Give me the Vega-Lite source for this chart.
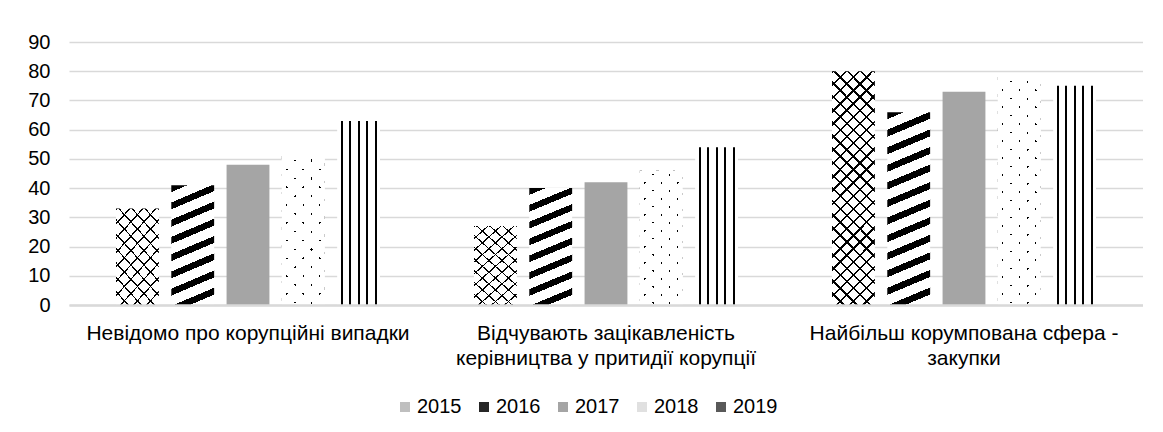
{
  "$schema": "https://vega.github.io/schema/vega-lite/v6.json",
  "width": 1074,
  "height": 263,
  "padding": {"left": 27, "top": 32, "right": 0, "bottom": 0},
  "background": "#ffffff",
  "config": {
    "view": {"stroke": null},
    "font": "Liberation Sans",
    "axis": {"labelFont": "Liberation Sans", "labelColor": "#000000"},
    "legend": {"labelFont": "Liberation Sans", "labelColor": "#000000"}
  },
  "data": {
    "values": [
      {"cat": "Невідомо про корупційні випадки", "year": "2015", "value": 33},
      {"cat": "Невідомо про корупційні випадки", "year": "2016", "value": 41},
      {"cat": "Невідомо про корупційні випадки", "year": "2017", "value": 48},
      {"cat": "Невідомо про корупційні випадки", "year": "2018", "value": 51},
      {"cat": "Невідомо про корупційні випадки", "year": "2019", "value": 63},
      {"cat": "Відчувають зацікавленість керівництва у притидії корупції", "year": "2015", "value": 27},
      {"cat": "Відчувають зацікавленість керівництва у притидії корупції", "year": "2016", "value": 40},
      {"cat": "Відчувають зацікавленість керівництва у притидії корупції", "year": "2017", "value": 42},
      {"cat": "Відчувають зацікавленість керівництва у притидії корупції", "year": "2018", "value": 46},
      {"cat": "Відчувають зацікавленість керівництва у притидії корупції", "year": "2019", "value": 54},
      {"cat": "Найбільш корумпована сфера - закупки", "year": "2015", "value": 80},
      {"cat": "Найбільш корумпована сфера - закупки", "year": "2016", "value": 66},
      {"cat": "Найбільш корумпована сфера - закупки", "year": "2017", "value": 73},
      {"cat": "Найбільш корумпована сфера - закупки", "year": "2018", "value": 78},
      {"cat": "Найбільш корумпована сфера - закупки", "year": "2019", "value": 75}
    ]
  },
  "encoding": {
    "x": {
      "field": "cat", "type": "nominal", "sort": null,
      "scale": {"paddingInner": 0.2626, "paddingOuter": 0.1313},
      "axis": {
        "title": null, "labelAngle": 0, "labelFontSize": 21, "labelLineHeight": 25,
        "labelPadding": 17, "labelLimit": 0, "ticks": false, "grid": false,
        "domain": true, "domainColor": "#d9d9d9", "domainWidth": 2.5, "zindex": 1,
        "labelExpr": "datum.value === 'Відчувають зацікавленість керівництва у притидії корупції' ? ['Відчувають зацікавленість', 'керівництва у притидії корупції'] : datum.value === 'Найбільш корумпована сфера - закупки' ? ['Найбільш корумпована сфера -', 'закупки'] : datum.value"
      }
    },
    "xOffset": {
      "field": "year", "type": "nominal",
      "scale": {"domain": ["2015", "2016", "2017", "2018", "2019"], "paddingInner": 0.225, "paddingOuter": 0}
    },
    "y": {
      "field": "value", "type": "quantitative",
      "scale": {"domain": [0, 90], "nice": false},
      "axis": {
        "title": null, "values": [0, 10, 20, 30, 40, 50, 60, 70, 80, 90],
        "labelFontSize": 20, "labelPadding": 19, "ticks": false, "domain": false,
        "grid": true, "gridColor": "#d9d9d9", "gridWidth": 1.5
      }
    }
  },
  "layer": [
    {
      "mark": {"type": "bar"},
      "encoding": {
        "fill": {
          "field": "year", "type": "nominal",
          "scale": {"domain": ["2015", "2016", "2017", "2018", "2019"], "range": ["#bfbfbf", "#262626", "#a5a5a5", "#e0e0e0", "#595959"]},
          "legend": {
            "title": null, "orient": "none", "legendX": 326, "legendY": 355, "direction": "horizontal",
            "symbolType": "square", "symbolSize": 100, "symbolStrokeWidth": 0,
            "labelFontSize": 20, "labelOffset": 2, "columnPadding": 12
          },
          "condition": [
            {"test": "datum.year === '2015' && datum.value > 60", "value": {"gradient": "linear", "x1": 0, "y1": 0, "x2": 0.2106, "y2": 1.1452, "stops": [
              {"offset": 0, "color": "#000"}, {"offset": 0.0085, "color": "#000"}, {"offset": 0.0085, "color": "#fff"}, {"offset": 0.0476, "color": "#fff"},
              {"offset": 0.0476, "color": "#000"}, {"offset": 0.0561, "color": "#000"}, {"offset": 0.0561, "color": "#fff"}, {"offset": 0.0952, "color": "#fff"},
              {"offset": 0.0952, "color": "#000"}, {"offset": 0.1037, "color": "#000"}, {"offset": 0.1037, "color": "#fff"}, {"offset": 0.1429, "color": "#fff"},
              {"offset": 0.1429, "color": "#000"}, {"offset": 0.1514, "color": "#000"}, {"offset": 0.1514, "color": "#fff"}, {"offset": 0.1905, "color": "#fff"},
              {"offset": 0.1905, "color": "#000"}, {"offset": 0.199, "color": "#000"}, {"offset": 0.199, "color": "#fff"}, {"offset": 0.2381, "color": "#fff"},
              {"offset": 0.2381, "color": "#000"}, {"offset": 0.2466, "color": "#000"}, {"offset": 0.2466, "color": "#fff"}, {"offset": 0.2857, "color": "#fff"},
              {"offset": 0.2857, "color": "#000"}, {"offset": 0.2942, "color": "#000"}, {"offset": 0.2942, "color": "#fff"}, {"offset": 0.3333, "color": "#fff"},
              {"offset": 0.3333, "color": "#000"}, {"offset": 0.3418, "color": "#000"}, {"offset": 0.3418, "color": "#fff"}, {"offset": 0.381, "color": "#fff"},
              {"offset": 0.381, "color": "#000"}, {"offset": 0.3895, "color": "#000"}, {"offset": 0.3895, "color": "#fff"}, {"offset": 0.4286, "color": "#fff"},
              {"offset": 0.4286, "color": "#000"}, {"offset": 0.4371, "color": "#000"}, {"offset": 0.4371, "color": "#fff"}, {"offset": 0.4762, "color": "#fff"},
              {"offset": 0.4762, "color": "#000"}, {"offset": 0.4847, "color": "#000"}, {"offset": 0.4847, "color": "#fff"}, {"offset": 0.5238, "color": "#fff"},
              {"offset": 0.5238, "color": "#000"}, {"offset": 0.5323, "color": "#000"}, {"offset": 0.5323, "color": "#fff"}, {"offset": 0.5714, "color": "#fff"},
              {"offset": 0.5714, "color": "#000"}, {"offset": 0.5799, "color": "#000"}, {"offset": 0.5799, "color": "#fff"}, {"offset": 0.619, "color": "#fff"},
              {"offset": 0.619, "color": "#000"}, {"offset": 0.6275, "color": "#000"}, {"offset": 0.6275, "color": "#fff"}, {"offset": 0.6667, "color": "#fff"},
              {"offset": 0.6667, "color": "#000"}, {"offset": 0.6752, "color": "#000"}, {"offset": 0.6752, "color": "#fff"}, {"offset": 0.7143, "color": "#fff"},
              {"offset": 0.7143, "color": "#000"}, {"offset": 0.7228, "color": "#000"}, {"offset": 0.7228, "color": "#fff"}, {"offset": 0.7619, "color": "#fff"},
              {"offset": 0.7619, "color": "#000"}, {"offset": 0.7704, "color": "#000"}, {"offset": 0.7704, "color": "#fff"}, {"offset": 0.8095, "color": "#fff"},
              {"offset": 0.8095, "color": "#000"}, {"offset": 0.818, "color": "#000"}, {"offset": 0.818, "color": "#fff"}, {"offset": 0.8571, "color": "#fff"},
              {"offset": 0.8571, "color": "#000"}, {"offset": 0.8656, "color": "#000"}, {"offset": 0.8656, "color": "#fff"}, {"offset": 0.9048, "color": "#fff"},
              {"offset": 0.9048, "color": "#000"}, {"offset": 0.9133, "color": "#000"}, {"offset": 0.9133, "color": "#fff"}, {"offset": 0.9524, "color": "#fff"},
              {"offset": 0.9524, "color": "#000"}, {"offset": 0.9609, "color": "#000"}, {"offset": 0.9609, "color": "#fff"}, {"offset": 1, "color": "#fff"}]}},
            {"test": "datum.year === '2015'", "value": {"gradient": "linear", "x1": 0, "y1": 0, "x2": 0.5872, "y2": 1.2017, "stops": [
              {"offset": 0, "color": "#000"}, {"offset": 0.013, "color": "#000"}, {"offset": 0.013, "color": "#fff"}, {"offset": 0.1, "color": "#fff"},
              {"offset": 0.1, "color": "#000"}, {"offset": 0.113, "color": "#000"}, {"offset": 0.113, "color": "#fff"}, {"offset": 0.2, "color": "#fff"},
              {"offset": 0.2, "color": "#000"}, {"offset": 0.213, "color": "#000"}, {"offset": 0.213, "color": "#fff"}, {"offset": 0.3, "color": "#fff"},
              {"offset": 0.3, "color": "#000"}, {"offset": 0.313, "color": "#000"}, {"offset": 0.313, "color": "#fff"}, {"offset": 0.4, "color": "#fff"},
              {"offset": 0.4, "color": "#000"}, {"offset": 0.413, "color": "#000"}, {"offset": 0.413, "color": "#fff"}, {"offset": 0.5, "color": "#fff"},
              {"offset": 0.5, "color": "#000"}, {"offset": 0.513, "color": "#000"}, {"offset": 0.513, "color": "#fff"}, {"offset": 0.6, "color": "#fff"},
              {"offset": 0.6, "color": "#000"}, {"offset": 0.613, "color": "#000"}, {"offset": 0.613, "color": "#fff"}, {"offset": 0.7, "color": "#fff"},
              {"offset": 0.7, "color": "#000"}, {"offset": 0.713, "color": "#000"}, {"offset": 0.713, "color": "#fff"}, {"offset": 0.8, "color": "#fff"},
              {"offset": 0.8, "color": "#000"}, {"offset": 0.813, "color": "#000"}, {"offset": 0.813, "color": "#fff"}, {"offset": 0.9, "color": "#fff"},
              {"offset": 0.9, "color": "#000"}, {"offset": 0.913, "color": "#000"}, {"offset": 0.913, "color": "#fff"}, {"offset": 1, "color": "#fff"}]}},
            {"test": "datum.year === '2016' && datum.value > 60", "value": {"gradient": "linear", "x1": 0, "y1": 0, "x2": 0.1011, "y2": 1.0839, "stops": [
              {"offset": 0, "color": "#000"}, {"offset": 0.0333, "color": "#000"}, {"offset": 0.0333, "color": "#fff"}, {"offset": 0.0833, "color": "#fff"},
              {"offset": 0.0833, "color": "#000"}, {"offset": 0.1167, "color": "#000"}, {"offset": 0.1167, "color": "#fff"}, {"offset": 0.1667, "color": "#fff"},
              {"offset": 0.1667, "color": "#000"}, {"offset": 0.2, "color": "#000"}, {"offset": 0.2, "color": "#fff"}, {"offset": 0.25, "color": "#fff"},
              {"offset": 0.25, "color": "#000"}, {"offset": 0.2833, "color": "#000"}, {"offset": 0.2833, "color": "#fff"}, {"offset": 0.3333, "color": "#fff"},
              {"offset": 0.3333, "color": "#000"}, {"offset": 0.3667, "color": "#000"}, {"offset": 0.3667, "color": "#fff"}, {"offset": 0.4167, "color": "#fff"},
              {"offset": 0.4167, "color": "#000"}, {"offset": 0.45, "color": "#000"}, {"offset": 0.45, "color": "#fff"}, {"offset": 0.5, "color": "#fff"},
              {"offset": 0.5, "color": "#000"}, {"offset": 0.5333, "color": "#000"}, {"offset": 0.5333, "color": "#fff"}, {"offset": 0.5833, "color": "#fff"},
              {"offset": 0.5833, "color": "#000"}, {"offset": 0.6167, "color": "#000"}, {"offset": 0.6167, "color": "#fff"}, {"offset": 0.6667, "color": "#fff"},
              {"offset": 0.6667, "color": "#000"}, {"offset": 0.7, "color": "#000"}, {"offset": 0.7, "color": "#fff"}, {"offset": 0.75, "color": "#fff"},
              {"offset": 0.75, "color": "#000"}, {"offset": 0.7833, "color": "#000"}, {"offset": 0.7833, "color": "#fff"}, {"offset": 0.8333, "color": "#fff"},
              {"offset": 0.8333, "color": "#000"}, {"offset": 0.8667, "color": "#000"}, {"offset": 0.8667, "color": "#fff"}, {"offset": 0.9167, "color": "#fff"},
              {"offset": 0.9167, "color": "#000"}, {"offset": 0.95, "color": "#000"}, {"offset": 0.95, "color": "#fff"}, {"offset": 1, "color": "#fff"}]}},
            {"test": "datum.year === '2016'", "value": {"gradient": "linear", "x1": 0, "y1": 0, "x2": 0.1712, "y2": 1.126, "stops": [
              {"offset": 0, "color": "#000"}, {"offset": 0.05, "color": "#000"}, {"offset": 0.05, "color": "#fff"}, {"offset": 0.125, "color": "#fff"},
              {"offset": 0.125, "color": "#000"}, {"offset": 0.175, "color": "#000"}, {"offset": 0.175, "color": "#fff"}, {"offset": 0.25, "color": "#fff"},
              {"offset": 0.25, "color": "#000"}, {"offset": 0.3, "color": "#000"}, {"offset": 0.3, "color": "#fff"}, {"offset": 0.375, "color": "#fff"},
              {"offset": 0.375, "color": "#000"}, {"offset": 0.425, "color": "#000"}, {"offset": 0.425, "color": "#fff"}, {"offset": 0.5, "color": "#fff"},
              {"offset": 0.5, "color": "#000"}, {"offset": 0.55, "color": "#000"}, {"offset": 0.55, "color": "#fff"}, {"offset": 0.625, "color": "#fff"},
              {"offset": 0.625, "color": "#000"}, {"offset": 0.675, "color": "#000"}, {"offset": 0.675, "color": "#fff"}, {"offset": 0.75, "color": "#fff"},
              {"offset": 0.75, "color": "#000"}, {"offset": 0.8, "color": "#000"}, {"offset": 0.8, "color": "#fff"}, {"offset": 0.875, "color": "#fff"},
              {"offset": 0.875, "color": "#000"}, {"offset": 0.925, "color": "#000"}, {"offset": 0.925, "color": "#fff"}, {"offset": 1, "color": "#fff"}]}},
            {"test": "datum.year === '2017'", "value": "#a5a5a5"},
            {"test": "datum.year === '2018' && datum.value > 60", "value": {"gradient": "linear", "x1": 0, "y1": 0, "x2": 0.222, "y2": 1.15, "stops": [
              {"offset": 0, "color": "#000"}, {"offset": 0.008, "color": "#000"}, {"offset": 0.008, "color": "#fff"}, {"offset": 0.0625, "color": "#fff"},
              {"offset": 0.0625, "color": "#000"}, {"offset": 0.0705, "color": "#000"}, {"offset": 0.0705, "color": "#fff"}, {"offset": 0.125, "color": "#fff"},
              {"offset": 0.125, "color": "#000"}, {"offset": 0.133, "color": "#000"}, {"offset": 0.133, "color": "#fff"}, {"offset": 0.1875, "color": "#fff"},
              {"offset": 0.1875, "color": "#000"}, {"offset": 0.1955, "color": "#000"}, {"offset": 0.1955, "color": "#fff"}, {"offset": 0.25, "color": "#fff"},
              {"offset": 0.25, "color": "#000"}, {"offset": 0.258, "color": "#000"}, {"offset": 0.258, "color": "#fff"}, {"offset": 0.3125, "color": "#fff"},
              {"offset": 0.3125, "color": "#000"}, {"offset": 0.3205, "color": "#000"}, {"offset": 0.3205, "color": "#fff"}, {"offset": 0.375, "color": "#fff"},
              {"offset": 0.375, "color": "#000"}, {"offset": 0.383, "color": "#000"}, {"offset": 0.383, "color": "#fff"}, {"offset": 0.4375, "color": "#fff"},
              {"offset": 0.4375, "color": "#000"}, {"offset": 0.4455, "color": "#000"}, {"offset": 0.4455, "color": "#fff"}, {"offset": 0.5, "color": "#fff"},
              {"offset": 0.5, "color": "#000"}, {"offset": 0.508, "color": "#000"}, {"offset": 0.508, "color": "#fff"}, {"offset": 0.5625, "color": "#fff"},
              {"offset": 0.5625, "color": "#000"}, {"offset": 0.5705, "color": "#000"}, {"offset": 0.5705, "color": "#fff"}, {"offset": 0.625, "color": "#fff"},
              {"offset": 0.625, "color": "#000"}, {"offset": 0.633, "color": "#000"}, {"offset": 0.633, "color": "#fff"}, {"offset": 0.6875, "color": "#fff"},
              {"offset": 0.6875, "color": "#000"}, {"offset": 0.6955, "color": "#000"}, {"offset": 0.6955, "color": "#fff"}, {"offset": 0.75, "color": "#fff"},
              {"offset": 0.75, "color": "#000"}, {"offset": 0.758, "color": "#000"}, {"offset": 0.758, "color": "#fff"}, {"offset": 0.8125, "color": "#fff"},
              {"offset": 0.8125, "color": "#000"}, {"offset": 0.8205, "color": "#000"}, {"offset": 0.8205, "color": "#fff"}, {"offset": 0.875, "color": "#fff"},
              {"offset": 0.875, "color": "#000"}, {"offset": 0.883, "color": "#000"}, {"offset": 0.883, "color": "#fff"}, {"offset": 0.9375, "color": "#fff"},
              {"offset": 0.9375, "color": "#000"}, {"offset": 0.9455, "color": "#000"}, {"offset": 0.9455, "color": "#fff"}, {"offset": 1, "color": "#fff"}]}},
            {"test": "datum.year === '2018'", "value": {"gradient": "linear", "x1": 0, "y1": 0, "x2": 0.3711, "y2": 1.1953, "stops": [
              {"offset": 0, "color": "#000"}, {"offset": 0.012, "color": "#000"}, {"offset": 0.012, "color": "#fff"}, {"offset": 0.0909, "color": "#fff"},
              {"offset": 0.0909, "color": "#000"}, {"offset": 0.1029, "color": "#000"}, {"offset": 0.1029, "color": "#fff"}, {"offset": 0.1818, "color": "#fff"},
              {"offset": 0.1818, "color": "#000"}, {"offset": 0.1938, "color": "#000"}, {"offset": 0.1938, "color": "#fff"}, {"offset": 0.2727, "color": "#fff"},
              {"offset": 0.2727, "color": "#000"}, {"offset": 0.2847, "color": "#000"}, {"offset": 0.2847, "color": "#fff"}, {"offset": 0.3636, "color": "#fff"},
              {"offset": 0.3636, "color": "#000"}, {"offset": 0.3756, "color": "#000"}, {"offset": 0.3756, "color": "#fff"}, {"offset": 0.4545, "color": "#fff"},
              {"offset": 0.4545, "color": "#000"}, {"offset": 0.4665, "color": "#000"}, {"offset": 0.4665, "color": "#fff"}, {"offset": 0.5455, "color": "#fff"},
              {"offset": 0.5455, "color": "#000"}, {"offset": 0.5575, "color": "#000"}, {"offset": 0.5575, "color": "#fff"}, {"offset": 0.6364, "color": "#fff"},
              {"offset": 0.6364, "color": "#000"}, {"offset": 0.6484, "color": "#000"}, {"offset": 0.6484, "color": "#fff"}, {"offset": 0.7273, "color": "#fff"},
              {"offset": 0.7273, "color": "#000"}, {"offset": 0.7393, "color": "#000"}, {"offset": 0.7393, "color": "#fff"}, {"offset": 0.8182, "color": "#fff"},
              {"offset": 0.8182, "color": "#000"}, {"offset": 0.8302, "color": "#000"}, {"offset": 0.8302, "color": "#fff"}, {"offset": 0.9091, "color": "#fff"},
              {"offset": 0.9091, "color": "#000"}, {"offset": 0.9211, "color": "#000"}, {"offset": 0.9211, "color": "#fff"}, {"offset": 1, "color": "#fff"}]}},
            {"test": "datum.year === '2019'", "value": {"gradient": "linear", "x1": 0, "y1": 0, "x2": 1, "y2": 0, "stops": [
              {"offset": 0, "color": "#fff"}, {"offset": 0.08, "color": "#fff"}, {"offset": 0.08, "color": "#000"}, {"offset": 0.125, "color": "#000"}, {"offset": 0.125, "color": "#fff"},
              {"offset": 0.28, "color": "#fff"}, {"offset": 0.28, "color": "#000"}, {"offset": 0.325, "color": "#000"}, {"offset": 0.325, "color": "#fff"},
              {"offset": 0.485, "color": "#fff"}, {"offset": 0.485, "color": "#000"}, {"offset": 0.53, "color": "#000"}, {"offset": 0.53, "color": "#fff"},
              {"offset": 0.685, "color": "#fff"}, {"offset": 0.685, "color": "#000"}, {"offset": 0.73, "color": "#000"}, {"offset": 0.73, "color": "#fff"},
              {"offset": 0.885, "color": "#fff"}, {"offset": 0.885, "color": "#000"}, {"offset": 0.93, "color": "#000"}, {"offset": 0.93, "color": "#fff"}, {"offset": 1, "color": "#fff"}]}}
          ]
        }
      }
    },
    {
      "transform": [{"filter": "datum.year === '2015'"}],
      "mark": {"type": "bar"},
      "encoding": {
        "fill": {
          "condition": {"test": "datum.value > 60", "value": {"gradient": "linear", "x1": 1, "y1": 0, "x2": 0.7894, "y2": 1.1452, "stops": [
            {"offset": 0, "color": "#000"}, {"offset": 0.0085, "color": "#000"}, {"offset": 0.0085, "color": "rgba(0,0,0,0)"}, {"offset": 0.0476, "color": "rgba(0,0,0,0)"},
            {"offset": 0.0476, "color": "#000"}, {"offset": 0.0561, "color": "#000"}, {"offset": 0.0561, "color": "rgba(0,0,0,0)"}, {"offset": 0.0952, "color": "rgba(0,0,0,0)"},
            {"offset": 0.0952, "color": "#000"}, {"offset": 0.1037, "color": "#000"}, {"offset": 0.1037, "color": "rgba(0,0,0,0)"}, {"offset": 0.1429, "color": "rgba(0,0,0,0)"},
            {"offset": 0.1429, "color": "#000"}, {"offset": 0.1514, "color": "#000"}, {"offset": 0.1514, "color": "rgba(0,0,0,0)"}, {"offset": 0.1905, "color": "rgba(0,0,0,0)"},
            {"offset": 0.1905, "color": "#000"}, {"offset": 0.199, "color": "#000"}, {"offset": 0.199, "color": "rgba(0,0,0,0)"}, {"offset": 0.2381, "color": "rgba(0,0,0,0)"},
            {"offset": 0.2381, "color": "#000"}, {"offset": 0.2466, "color": "#000"}, {"offset": 0.2466, "color": "rgba(0,0,0,0)"}, {"offset": 0.2857, "color": "rgba(0,0,0,0)"},
            {"offset": 0.2857, "color": "#000"}, {"offset": 0.2942, "color": "#000"}, {"offset": 0.2942, "color": "rgba(0,0,0,0)"}, {"offset": 0.3333, "color": "rgba(0,0,0,0)"},
            {"offset": 0.3333, "color": "#000"}, {"offset": 0.3418, "color": "#000"}, {"offset": 0.3418, "color": "rgba(0,0,0,0)"}, {"offset": 0.381, "color": "rgba(0,0,0,0)"},
            {"offset": 0.381, "color": "#000"}, {"offset": 0.3895, "color": "#000"}, {"offset": 0.3895, "color": "rgba(0,0,0,0)"}, {"offset": 0.4286, "color": "rgba(0,0,0,0)"},
            {"offset": 0.4286, "color": "#000"}, {"offset": 0.4371, "color": "#000"}, {"offset": 0.4371, "color": "rgba(0,0,0,0)"}, {"offset": 0.4762, "color": "rgba(0,0,0,0)"},
            {"offset": 0.4762, "color": "#000"}, {"offset": 0.4847, "color": "#000"}, {"offset": 0.4847, "color": "rgba(0,0,0,0)"}, {"offset": 0.5238, "color": "rgba(0,0,0,0)"},
            {"offset": 0.5238, "color": "#000"}, {"offset": 0.5323, "color": "#000"}, {"offset": 0.5323, "color": "rgba(0,0,0,0)"}, {"offset": 0.5714, "color": "rgba(0,0,0,0)"},
            {"offset": 0.5714, "color": "#000"}, {"offset": 0.5799, "color": "#000"}, {"offset": 0.5799, "color": "rgba(0,0,0,0)"}, {"offset": 0.619, "color": "rgba(0,0,0,0)"},
            {"offset": 0.619, "color": "#000"}, {"offset": 0.6275, "color": "#000"}, {"offset": 0.6275, "color": "rgba(0,0,0,0)"}, {"offset": 0.6667, "color": "rgba(0,0,0,0)"},
            {"offset": 0.6667, "color": "#000"}, {"offset": 0.6752, "color": "#000"}, {"offset": 0.6752, "color": "rgba(0,0,0,0)"}, {"offset": 0.7143, "color": "rgba(0,0,0,0)"},
            {"offset": 0.7143, "color": "#000"}, {"offset": 0.7228, "color": "#000"}, {"offset": 0.7228, "color": "rgba(0,0,0,0)"}, {"offset": 0.7619, "color": "rgba(0,0,0,0)"},
            {"offset": 0.7619, "color": "#000"}, {"offset": 0.7704, "color": "#000"}, {"offset": 0.7704, "color": "rgba(0,0,0,0)"}, {"offset": 0.8095, "color": "rgba(0,0,0,0)"},
            {"offset": 0.8095, "color": "#000"}, {"offset": 0.818, "color": "#000"}, {"offset": 0.818, "color": "rgba(0,0,0,0)"}, {"offset": 0.8571, "color": "rgba(0,0,0,0)"},
            {"offset": 0.8571, "color": "#000"}, {"offset": 0.8656, "color": "#000"}, {"offset": 0.8656, "color": "rgba(0,0,0,0)"}, {"offset": 0.9048, "color": "rgba(0,0,0,0)"},
            {"offset": 0.9048, "color": "#000"}, {"offset": 0.9133, "color": "#000"}, {"offset": 0.9133, "color": "rgba(0,0,0,0)"}, {"offset": 0.9524, "color": "rgba(0,0,0,0)"},
            {"offset": 0.9524, "color": "#000"}, {"offset": 0.9609, "color": "#000"}, {"offset": 0.9609, "color": "rgba(0,0,0,0)"}, {"offset": 1, "color": "rgba(0,0,0,0)"}]}},
          "value": {"gradient": "linear", "x1": 1, "y1": 0, "x2": 0.4128, "y2": 1.2017, "stops": [
            {"offset": 0, "color": "#000"}, {"offset": 0.013, "color": "#000"}, {"offset": 0.013, "color": "rgba(0,0,0,0)"}, {"offset": 0.1, "color": "rgba(0,0,0,0)"},
            {"offset": 0.1, "color": "#000"}, {"offset": 0.113, "color": "#000"}, {"offset": 0.113, "color": "rgba(0,0,0,0)"}, {"offset": 0.2, "color": "rgba(0,0,0,0)"},
            {"offset": 0.2, "color": "#000"}, {"offset": 0.213, "color": "#000"}, {"offset": 0.213, "color": "rgba(0,0,0,0)"}, {"offset": 0.3, "color": "rgba(0,0,0,0)"},
            {"offset": 0.3, "color": "#000"}, {"offset": 0.313, "color": "#000"}, {"offset": 0.313, "color": "rgba(0,0,0,0)"}, {"offset": 0.4, "color": "rgba(0,0,0,0)"},
            {"offset": 0.4, "color": "#000"}, {"offset": 0.413, "color": "#000"}, {"offset": 0.413, "color": "rgba(0,0,0,0)"}, {"offset": 0.5, "color": "rgba(0,0,0,0)"},
            {"offset": 0.5, "color": "#000"}, {"offset": 0.513, "color": "#000"}, {"offset": 0.513, "color": "rgba(0,0,0,0)"}, {"offset": 0.6, "color": "rgba(0,0,0,0)"},
            {"offset": 0.6, "color": "#000"}, {"offset": 0.613, "color": "#000"}, {"offset": 0.613, "color": "rgba(0,0,0,0)"}, {"offset": 0.7, "color": "rgba(0,0,0,0)"},
            {"offset": 0.7, "color": "#000"}, {"offset": 0.713, "color": "#000"}, {"offset": 0.713, "color": "rgba(0,0,0,0)"}, {"offset": 0.8, "color": "rgba(0,0,0,0)"},
            {"offset": 0.8, "color": "#000"}, {"offset": 0.813, "color": "#000"}, {"offset": 0.813, "color": "rgba(0,0,0,0)"}, {"offset": 0.9, "color": "rgba(0,0,0,0)"},
            {"offset": 0.9, "color": "#000"}, {"offset": 0.913, "color": "#000"}, {"offset": 0.913, "color": "rgba(0,0,0,0)"}, {"offset": 1, "color": "rgba(0,0,0,0)"}]}
        }
      }
    },
    {
      "transform": [{"filter": "datum.year === '2018'"}],
      "mark": {"type": "bar"},
      "encoding": {
        "fill": {
          "condition": {"test": "datum.value > 60", "value": {"gradient": "linear", "x1": 1, "y1": 0, "x2": 0.778, "y2": 1.15, "stops": [
            {"offset": 0, "color": "rgba(255,255,255,0)"}, {"offset": 0.008, "color": "rgba(255,255,255,0)"}, {"offset": 0.008, "color": "#fff"}, {"offset": 0.0625, "color": "#fff"},
            {"offset": 0.0625, "color": "rgba(255,255,255,0)"}, {"offset": 0.0705, "color": "rgba(255,255,255,0)"}, {"offset": 0.0705, "color": "#fff"}, {"offset": 0.125, "color": "#fff"},
            {"offset": 0.125, "color": "rgba(255,255,255,0)"}, {"offset": 0.133, "color": "rgba(255,255,255,0)"}, {"offset": 0.133, "color": "#fff"}, {"offset": 0.1875, "color": "#fff"},
            {"offset": 0.1875, "color": "rgba(255,255,255,0)"}, {"offset": 0.1955, "color": "rgba(255,255,255,0)"}, {"offset": 0.1955, "color": "#fff"}, {"offset": 0.25, "color": "#fff"},
            {"offset": 0.25, "color": "rgba(255,255,255,0)"}, {"offset": 0.258, "color": "rgba(255,255,255,0)"}, {"offset": 0.258, "color": "#fff"}, {"offset": 0.3125, "color": "#fff"},
            {"offset": 0.3125, "color": "rgba(255,255,255,0)"}, {"offset": 0.3205, "color": "rgba(255,255,255,0)"}, {"offset": 0.3205, "color": "#fff"}, {"offset": 0.375, "color": "#fff"},
            {"offset": 0.375, "color": "rgba(255,255,255,0)"}, {"offset": 0.383, "color": "rgba(255,255,255,0)"}, {"offset": 0.383, "color": "#fff"}, {"offset": 0.4375, "color": "#fff"},
            {"offset": 0.4375, "color": "rgba(255,255,255,0)"}, {"offset": 0.4455, "color": "rgba(255,255,255,0)"}, {"offset": 0.4455, "color": "#fff"}, {"offset": 0.5, "color": "#fff"},
            {"offset": 0.5, "color": "rgba(255,255,255,0)"}, {"offset": 0.508, "color": "rgba(255,255,255,0)"}, {"offset": 0.508, "color": "#fff"}, {"offset": 0.5625, "color": "#fff"},
            {"offset": 0.5625, "color": "rgba(255,255,255,0)"}, {"offset": 0.5705, "color": "rgba(255,255,255,0)"}, {"offset": 0.5705, "color": "#fff"}, {"offset": 0.625, "color": "#fff"},
            {"offset": 0.625, "color": "rgba(255,255,255,0)"}, {"offset": 0.633, "color": "rgba(255,255,255,0)"}, {"offset": 0.633, "color": "#fff"}, {"offset": 0.6875, "color": "#fff"},
            {"offset": 0.6875, "color": "rgba(255,255,255,0)"}, {"offset": 0.6955, "color": "rgba(255,255,255,0)"}, {"offset": 0.6955, "color": "#fff"}, {"offset": 0.75, "color": "#fff"},
            {"offset": 0.75, "color": "rgba(255,255,255,0)"}, {"offset": 0.758, "color": "rgba(255,255,255,0)"}, {"offset": 0.758, "color": "#fff"}, {"offset": 0.8125, "color": "#fff"},
            {"offset": 0.8125, "color": "rgba(255,255,255,0)"}, {"offset": 0.8205, "color": "rgba(255,255,255,0)"}, {"offset": 0.8205, "color": "#fff"}, {"offset": 0.875, "color": "#fff"},
            {"offset": 0.875, "color": "rgba(255,255,255,0)"}, {"offset": 0.883, "color": "rgba(255,255,255,0)"}, {"offset": 0.883, "color": "#fff"}, {"offset": 0.9375, "color": "#fff"},
            {"offset": 0.9375, "color": "rgba(255,255,255,0)"}, {"offset": 0.9455, "color": "rgba(255,255,255,0)"}, {"offset": 0.9455, "color": "#fff"}, {"offset": 1, "color": "#fff"}]}},
          "value": {"gradient": "linear", "x1": 1, "y1": 0, "x2": 0.6289, "y2": 1.1953, "stops": [
            {"offset": 0, "color": "rgba(255,255,255,0)"}, {"offset": 0.012, "color": "rgba(255,255,255,0)"}, {"offset": 0.012, "color": "#fff"}, {"offset": 0.0909, "color": "#fff"},
            {"offset": 0.0909, "color": "rgba(255,255,255,0)"}, {"offset": 0.1029, "color": "rgba(255,255,255,0)"}, {"offset": 0.1029, "color": "#fff"}, {"offset": 0.1818, "color": "#fff"},
            {"offset": 0.1818, "color": "rgba(255,255,255,0)"}, {"offset": 0.1938, "color": "rgba(255,255,255,0)"}, {"offset": 0.1938, "color": "#fff"}, {"offset": 0.2727, "color": "#fff"},
            {"offset": 0.2727, "color": "rgba(255,255,255,0)"}, {"offset": 0.2847, "color": "rgba(255,255,255,0)"}, {"offset": 0.2847, "color": "#fff"}, {"offset": 0.3636, "color": "#fff"},
            {"offset": 0.3636, "color": "rgba(255,255,255,0)"}, {"offset": 0.3756, "color": "rgba(255,255,255,0)"}, {"offset": 0.3756, "color": "#fff"}, {"offset": 0.4545, "color": "#fff"},
            {"offset": 0.4545, "color": "rgba(255,255,255,0)"}, {"offset": 0.4665, "color": "rgba(255,255,255,0)"}, {"offset": 0.4665, "color": "#fff"}, {"offset": 0.5455, "color": "#fff"},
            {"offset": 0.5455, "color": "rgba(255,255,255,0)"}, {"offset": 0.5575, "color": "rgba(255,255,255,0)"}, {"offset": 0.5575, "color": "#fff"}, {"offset": 0.6364, "color": "#fff"},
            {"offset": 0.6364, "color": "rgba(255,255,255,0)"}, {"offset": 0.6484, "color": "rgba(255,255,255,0)"}, {"offset": 0.6484, "color": "#fff"}, {"offset": 0.7273, "color": "#fff"},
            {"offset": 0.7273, "color": "rgba(255,255,255,0)"}, {"offset": 0.7393, "color": "rgba(255,255,255,0)"}, {"offset": 0.7393, "color": "#fff"}, {"offset": 0.8182, "color": "#fff"},
            {"offset": 0.8182, "color": "rgba(255,255,255,0)"}, {"offset": 0.8302, "color": "rgba(255,255,255,0)"}, {"offset": 0.8302, "color": "#fff"}, {"offset": 0.9091, "color": "#fff"},
            {"offset": 0.9091, "color": "rgba(255,255,255,0)"}, {"offset": 0.9211, "color": "rgba(255,255,255,0)"}, {"offset": 0.9211, "color": "#fff"}, {"offset": 1, "color": "#fff"}]}
        }
      }
    }
  ]
}
